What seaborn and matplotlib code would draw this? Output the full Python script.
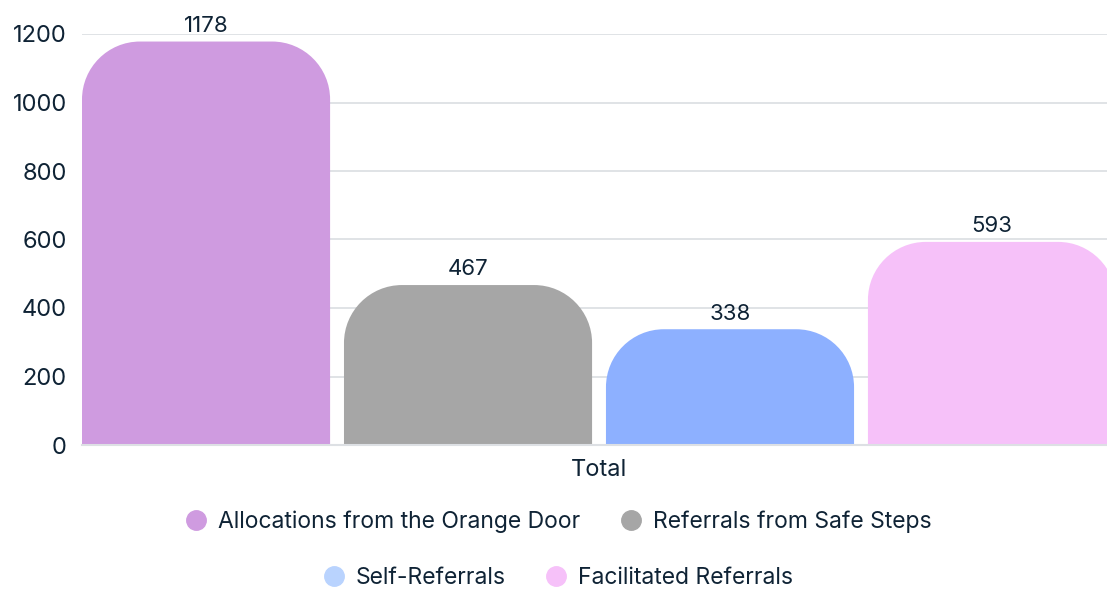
import numpy as np
import pandas as pd
import matplotlib
matplotlib.use("Agg")
import matplotlib.pyplot as plt
import seaborn as sns
from matplotlib.path import Path
from matplotlib.patches import PathPatch
from matplotlib.lines import Line2D

categories = ["Total"]
series = ["Allocations from the Orange Door", "Referrals from Safe Steps",
          "Self-Referrals", "Facilitated Referrals"]
values = [1178, 467, 338, 593]
bar_colors = ["#CF9BE0", "#A6A6A6", "#8DB0FF", "#F6C1F9"]
legend_colors = ["#CF9BE0", "#A6A6A6", "#B9D3FE", "#F6C1F9"]
yticks = [0, 200, 400, 600, 800, 1000, 1200]

TXT = "#0F2335"
GRID = "#DDE0E4"

sns.set_theme(style="white")
plt.rcParams["font.family"] = ["Inter", "DejaVu Sans"]

df = pd.DataFrame({"cat": categories * len(series), "series": series, "value": values})

W, H, DPI = 1107, 590, 100
fig = plt.figure(figsize=(W / DPI, H / DPI), dpi=DPI)
ax = fig.add_axes([82 / W, (H - 445) / H, (W - 82) / W, 411 / H])

sns.barplot(data=df, x="cat", y="value", hue="series", hue_order=series,
            palette=bar_colors, width=0.8, gap=0.053, ax=ax, legend=False,
            saturation=1, zorder=2)

ax.set_ylim(0, 1200)
ax.set_xlim(-0.3947, 0.3878)
ax.set_yticks(yticks)
ax.set_yticklabels([str(t) for t in yticks])
ax.grid(axis="y", color=GRID, linewidth=1.3, zorder=0)
ax.set_axisbelow(True)
for s in ["top", "right", "left"]:
    ax.spines[s].set_visible(False)
ax.spines["bottom"].set_color(GRID)
ax.spines["bottom"].set_linewidth(1.5)
ax.tick_params(axis="y", length=0, colors=TXT, labelsize=17, pad=11)
ax.tick_params(axis="x", length=0, colors=TXT, labelsize=17, pad=10)
ax.set_xlabel("")
ax.set_ylabel("")

# pixel -> data scale
x_per_px = (0.3878 + 0.3947) / (W - 82)
y_per_px = 1200 / 411
r_px = 58
rx, ry = r_px * x_per_px, r_px * y_per_px
k = 0.5523

patches = list(ax.patches)
for p in patches:
    x0 = p.get_x(); w = p.get_width(); h = p.get_height(); y0 = p.get_y()
    fc = p.get_facecolor()
    p.remove()
    x1 = x0 + w; y1 = y0 + h
    verts = [
        (x0, y0), (x0, y1 - ry),
        (x0, y1 - ry + k * ry), (x0 + rx - k * rx, y1), (x0 + rx, y1),
        (x1 - rx, y1),
        (x1 - rx + k * rx, y1), (x1, y1 - ry + k * ry), (x1, y1 - ry),
        (x1, y0), (x0, y0),
    ]
    codes = [Path.MOVETO, Path.LINETO,
             Path.CURVE4, Path.CURVE4, Path.CURVE4,
             Path.LINETO,
             Path.CURVE4, Path.CURVE4, Path.CURVE4,
             Path.LINETO, Path.CLOSEPOLY]
    pp = PathPatch(Path(verts, codes), facecolor=fc, edgecolor="none", zorder=2)
    ax.add_patch(pp)
    ax.annotate(f"{int(round(h))}", (x0 + w / 2, y1), xytext=(0, 4),
                textcoords="offset points", ha="center", va="bottom",
                fontsize=16, color=TXT, clip_on=False)

handles = [Line2D([], [], marker="o", linestyle="none", markersize=14,
                  markerfacecolor=c, markeredgecolor=c) for c in legend_colors]
leg_kw = dict(ncol=2, loc="center", frameon=False, fontsize=16.5,
              handletextpad=0.45, columnspacing=1.7, labelcolor=TXT,
              handlelength=1.0)
fig.legend(handles[:2], series[:2], bbox_to_anchor=(558 / W, (H - 522) / H), **leg_kw)
fig.legend(handles[2:], series[2:], bbox_to_anchor=(558 / W, (H - 578) / H), **leg_kw)

fig.savefig("out.png", dpi=DPI)
